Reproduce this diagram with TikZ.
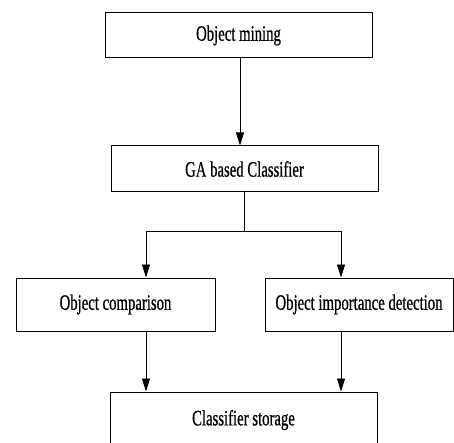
\documentclass[tikz,border=0pt]{standalone}
\usepackage{fontspec}
\setmainfont{Liberation Serif}
\newfontfamily\boxfont[FakeStretch=0.67,FakeBold=0.6]{Liberation Serif}
\usetikzlibrary{arrows.meta}
\usetikzlibrary{positioning}

\begin{document}
\begin{tikzpicture}[x=1pt,y=-1pt,line width=0.8pt,
  every node/.style={draw,rectangle,line width=1pt,inner sep=0pt,font=\boxfont\fontsize{22}{24}\selectfont},
  flow/.style={-{Triangle[length=13pt,width=8pt]}}]
  \useasboundingbox (0,0) rectangle (454,443);
  \node (mining) at (238.5,35.5)[minimum width=267,minimum height=45]{Object mining};
  \node (ga) at (244.5,169)[minimum width=267,minimum height=46]{GA based Classifier};
  \node (cmp) at (115.5,304.5)[minimum width=199,minimum height=53]{Object comparison};
  \node (imp) at (359,304.5)[minimum width=188,minimum height=53]{Object importance detection};
  \node (store) at (243.5,420)[minimum width=267,minimum height=56]{Classifier storage};

  \coordinate (down) at (240,0);
  \coordinate (split) at (ga.south |- 0,231);
  \coordinate (l) at (146,231);
  \coordinate (r) at (341,231);

  \draw[flow](down |- mining.south)--(down |- ga.north);
  \draw(ga.south)--(split);
  \draw(l)--(r);
  \draw[flow](l)--(l |- cmp.north);
  \draw[flow](r)--(r |- imp.north);
  \draw[flow](l |- cmp.south)--(l |- store.north);
  \draw[flow](r |- imp.south)--(r |- store.north);
\end{tikzpicture}
\end{document}
